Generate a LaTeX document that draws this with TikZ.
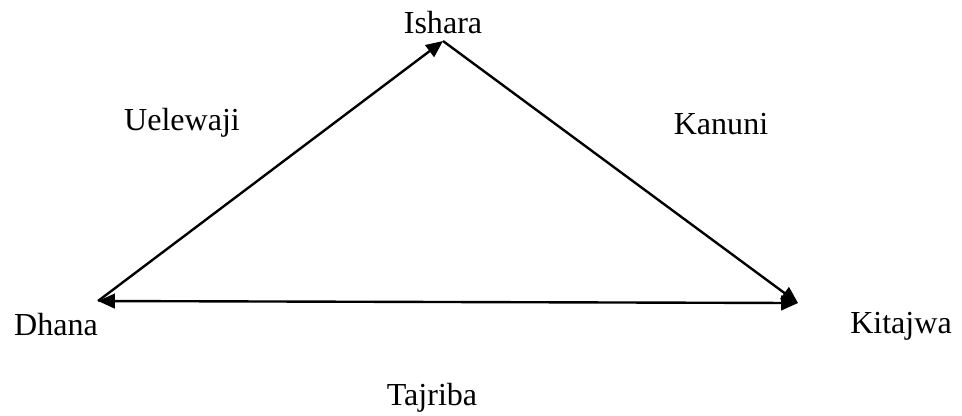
\documentclass[tikz,border=0pt]{standalone}
\usepackage{fontspec}
\setmainfont{Liberation Serif}
\usepackage{tikz}
\usetikzlibrary{arrows.meta}
\tikzset{link/.style={-{Triangle[length=6pt,width=5.2pt]},line width=0.85pt},
 every node/.style={font=\fontsize{11.4}{13}\selectfont,inner sep=0pt,anchor=base}}

\begin{document}
\begin{tikzpicture}[x=0.0125cm,y=-0.0125cm]
\useasboundingbox (0,0) rectangle (962,415);
\coordinate (D) at (98,301);
\coordinate (I) at (443,41);
\coordinate (K) at (798,303);
\draw[link] (D)--(I);
\draw[link] (I)--(K);
\draw[link,{Triangle[length=6pt,width=5.2pt]}-{Triangle[length=6pt,width=5.2pt]}] (D)--(K);
\node (ishara) at (443,33) {Ishara};
\node (uelewaji) at (182,130) {Uelewaji};
\node (kanuni) at (721,134) {Kanuni};
\node (dhana) at (56,335) {Dhana};
\node (kitajwa) at (901,333) {Kitajwa};
\node (tajriba) at (432,405) {Tajriba};
\end{tikzpicture}
\end{document}
